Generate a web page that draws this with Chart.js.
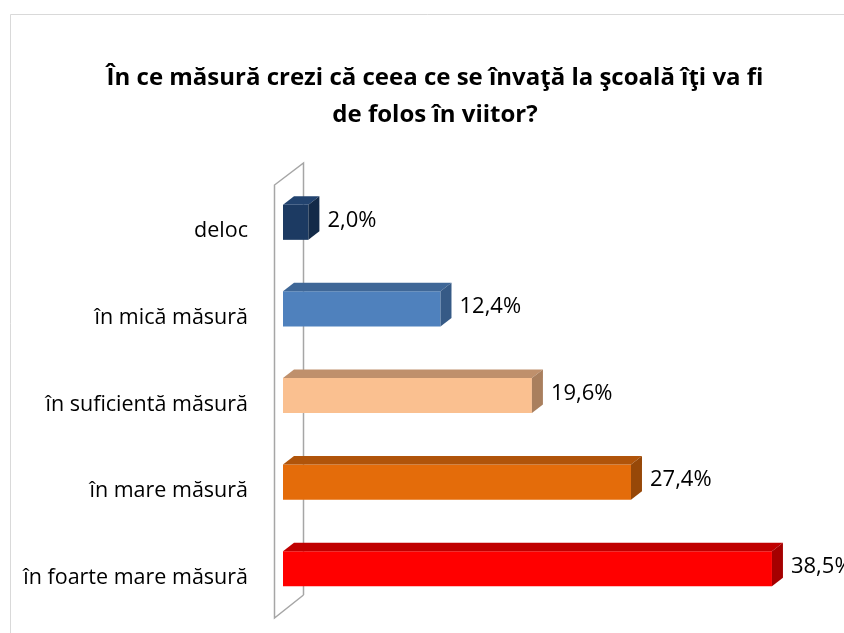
<!DOCTYPE html>
<html>
<head>
<meta charset="utf-8">
<script src="https://cdn.jsdelivr.net/npm/chart.js@4"></script>
<style>
  html, body { margin: 0; padding: 0; background: #ffffff; }
  #wrap { position: relative; width: 844px; height: 633px; }
</style>
</head>
<body>
<div id="wrap"><canvas id="c" width="844" height="633"></canvas></div>
<script>
const titleLines = ["În ce măsură crezi că ceea ce se învaţă la şcoală îţi va fi", "de folos în viitor?"];
const categories = ["deloc", "în mică măsură", "în suficientă măsură", "în mare măsură", "în foarte mare măsură"];
const values = [2.0, 12.4, 19.6, 27.4, 38.5];
const valueLabels = ["2,0%", "12,4%", "19,6%", "27,4%", "38,5%"];
const axisMin = 0;
const axisMax = 40;

const frontColors = ["#1C3A62", "#4F81BD", "#FAC090", "#E46C0A", "#FF0000"];
const topColors   = ["#22436F", "#3F6797", "#BF906C", "#B0540A", "#C00000"];
const sideColors  = ["#132A48", "#365A86", "#A97F5E", "#974808", "#A50000"];

const DX = 11, DY = -8.5;

const framePlugin = {
  id: 'frame',
  beforeDraw(chart) {
    const ctx = chart.ctx;
    ctx.save();
    ctx.fillStyle = '#ffffff';
    ctx.fillRect(0, 0, chart.width, chart.height);
    ctx.strokeStyle = '#d9d9d9';
    ctx.lineWidth = 1;
    ctx.beginPath();
    ctx.moveTo(10.5, chart.height);
    ctx.lineTo(10.5, 14.5);
    ctx.lineTo(chart.width, 14.5);
    ctx.stroke();
    ctx.fillStyle = '#000000';
    ctx.font = 'bold 24px "Open Sans", sans-serif';
    ctx.textAlign = 'center';
    ctx.textBaseline = 'alphabetic';
    ctx.fillText(titleLines[0], 435, 85);
    ctx.fillText(titleLines[1], 435, 122);
    ctx.restore();
  }
};

const wallPlugin = {
  id: 'wall',
  beforeDatasetsDraw(chart) {
    const ctx = chart.ctx;
    const a = chart.chartArea;
    const x0 = chart.scales.x.getPixelForValue(axisMin);
    const fx = Math.round(x0 - 9) + 0.5;
    const bx = Math.round(x0 + 20) + 0.5;
    ctx.save();
    ctx.strokeStyle = '#a6a6a6';
    ctx.lineWidth = 1.5;
    ctx.beginPath();
    ctx.moveTo(bx, a.bottom - 17);
    ctx.lineTo(bx, a.top - 16);
    ctx.lineTo(fx, a.top + 6);
    ctx.lineTo(fx, a.bottom + 6);
    ctx.lineTo(bx, a.bottom - 17);
    ctx.stroke();
    ctx.restore();
  }
};

const bar3dPlugin = {
  id: 'bar3d',
  afterDatasetsDraw(chart) {
    const ctx = chart.ctx;
    const meta = chart.getDatasetMeta(0);
    ctx.save();
    meta.data.forEach((el, i) => {
      const p = el.getProps(['x', 'y', 'base', 'height'], true);
      const top = p.y - p.height / 2;
      const bottom = p.y + p.height / 2;
      const left = Math.min(p.base, p.x);
      const right = Math.max(p.base, p.x);
      ctx.fillStyle = topColors[i];
      ctx.beginPath();
      ctx.moveTo(left, top);
      ctx.lineTo(right, top);
      ctx.lineTo(right + DX, top + DY);
      ctx.lineTo(left + DX, top + DY);
      ctx.closePath();
      ctx.fill();
      ctx.fillStyle = sideColors[i];
      ctx.beginPath();
      ctx.moveTo(right, top);
      ctx.lineTo(right + DX, top + DY);
      ctx.lineTo(right + DX, bottom + DY);
      ctx.lineTo(right, bottom);
      ctx.closePath();
      ctx.fill();
      ctx.fillStyle = '#000000';
      ctx.font = '22px "Open Sans", sans-serif';
      ctx.textAlign = 'left';
      ctx.textBaseline = 'middle';
      ctx.fillText(valueLabels[i], right + DX + 8, p.y - 2);
    });
    ctx.restore();
  }
};

new Chart(document.getElementById('c'), {
  type: 'bar',
  data: {
    labels: categories,
    datasets: [{
      data: values,
      backgroundColor: frontColors,
      borderWidth: 0,
      categoryPercentage: 1.0,
      barPercentage: 0.405
    }]
  },
  options: {
    indexAxis: 'y',
    responsive: false,
    animation: false,
    devicePixelRatio: 1,
    layout: { padding: { left: 12, right: 53, top: 179, bottom: 21 } },
    scales: {
      x: {
        display: false,
        min: axisMin,
        max: axisMax
      },
      y: {
        grid: { display: false, drawTicks: false },
        border: { display: false },
        ticks: {
          padding: 35,
          labelOffset: 9,
          color: '#000000',
          font: { family: '"Open Sans", sans-serif', size: 21.5 }
        },
        afterFit(scale) {
          scale.width = 271;
          scale.paddingTop = 0;
          scale.paddingBottom = 0;
        }
      }
    },
    plugins: {
      legend: { display: false },
      tooltip: { enabled: false },
      title: { display: false }
    }
  },
  plugins: [framePlugin, wallPlugin, bar3dPlugin]
});
</script>
</body>
</html>
